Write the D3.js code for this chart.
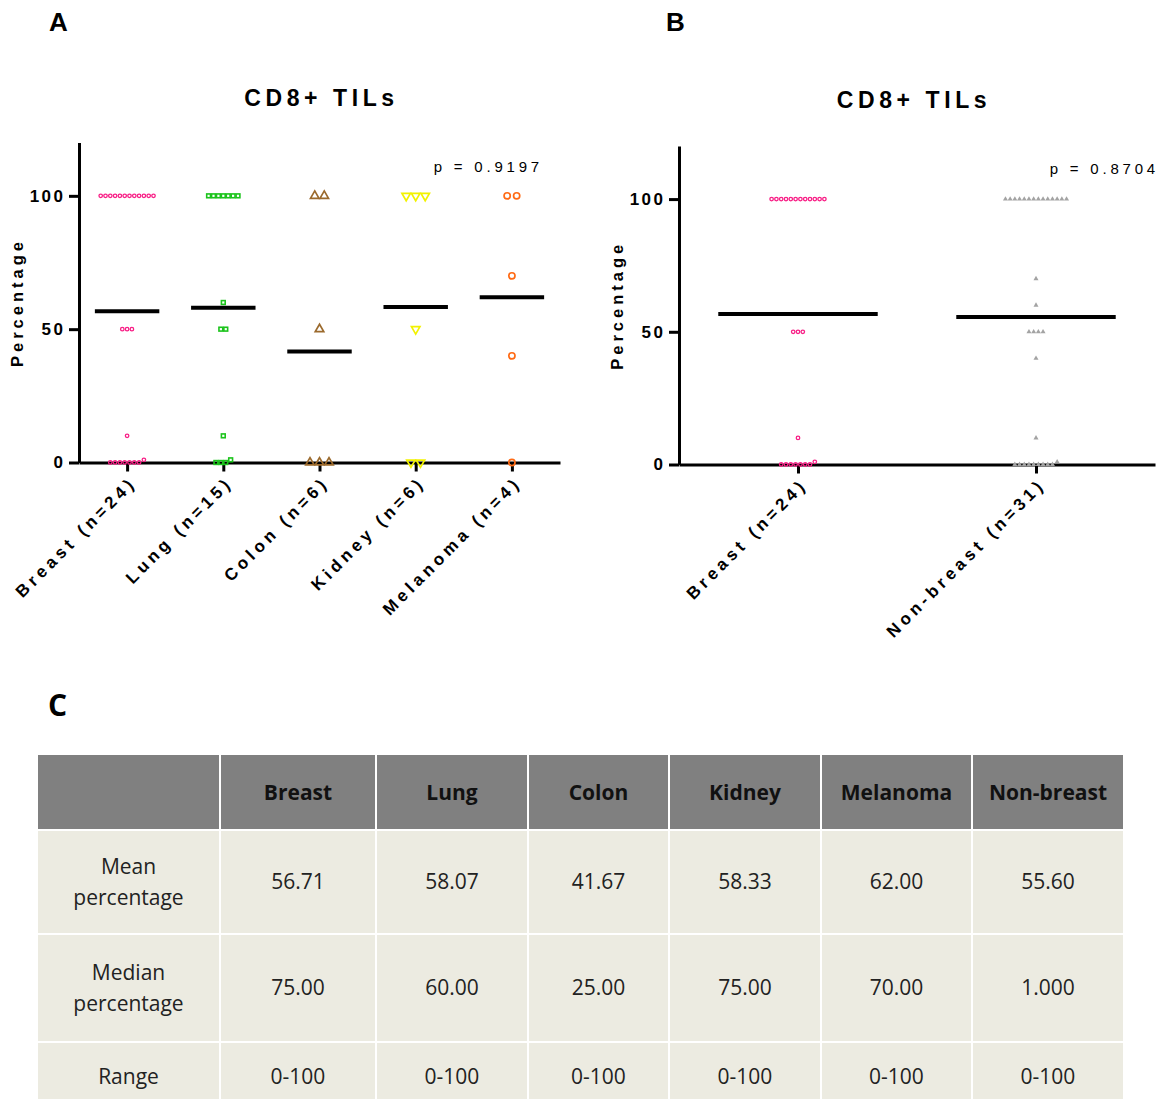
<!DOCTYPE html>
<html>
<head>
<meta charset="utf-8">
<script src="https://cdn.jsdelivr.net/npm/d3@7"></script>
<style>
  body { margin: 0; background: #fff; }
  svg text { font-family: "Liberation Sans", Arial, sans-serif; }
  .tbl text { font-family: "Open Sans", sans-serif; }
</style>
</head>
<body>
<div id="chart"></div>
<script>
// categories
const groupsA = ["Breast (n=24)", "Lung (n=15)", "Colon (n=6)", "Kidney (n=6)", "Melanoma (n=4)"];
const groupsB = ["Breast (n=24)", "Non-breast (n=31)"];

// individual percentages
const breastVals = [100,100,100,100,100,100,100,100,100,100,100,100, 50,50,50, 10, 0,0,0,0,0,0,0, 1];
const lungVals = [100,100,100,100,100,100,100, 60, 50,50, 10, 0,0,0, 1];
const colonVals = [100,100, 50, 0,0,0];
const kidneyVals = [100,100,100, 50, 0,0];
const melanomaVals = [100,100, 70, 40, 0];
const nonBreastVals = [100,100,100,100,100,100,100,100,100,100,100,100,100,100, 70, 60, 50,50,50,50, 40, 10, 0,0,0,0,0,0,0,0,0, 1];

// mean lines (from the table)
const meansA = [56.71, 58.07, 41.67, 58.33, 62.00];
const meansB = [56.71, 55.60];

const pValues = ["p = 0.9197", "p = 0.8704"];
const yTicks = [0, 50, 100];

// table
const tableHeader = ["", "Breast", "Lung", "Colon", "Kidney", "Melanoma", "Non-breast"];
const rowLabels = [["Mean", "percentage"], ["Median", "percentage"], ["Range"]];
const meanRow = ["56.71", "58.07", "41.67", "58.33", "62.00", "55.60"];
const medianRow = ["75.00", "60.00", "25.00", "75.00", "70.00", "1.000"];
const rangeRow = ["0-100", "0-100", "0-100", "0-100", "0-100", "0-100"];

// marker styles
const styles = {
  breast:   { shape: "circle", r: 1.75, stroke: "#f81f86", sw: 1.3, fill: "none", gap: 4.8 },
  lung:     { shape: "square", s: 3.8, stroke: "#1cc41c", sw: 1.6, fill: "none", gap: 4.9 },
  colon:    { shape: "tri", s: 8.5, stroke: "#9b6a2d", sw: 1.7, fill: "none", gap: 9.5 },
  kidney:   { shape: "triDown", s: 8.5, stroke: "#f2f200", sw: 1.7, fill: "none", gap: 9.5 },
  melanoma: { shape: "circle", r: 3.1, stroke: "#ff6a14", sw: 1.7, fill: "none", gap: 9.5 },
  nonBreast:{ shape: "tri", s: 5, stroke: "none", sw: 0, fill: "#a3a3a3", gap: 4.7 }
};

const seriesA = [
  { values: breastVals, style: styles.breast },
  { values: lungVals, style: styles.lung },
  { values: colonVals, style: styles.colon },
  { values: kidneyVals, style: styles.kidney },
  { values: melanomaVals, style: styles.melanoma }
];
const seriesB = [
  { values: breastVals, style: styles.breast },
  { values: nonBreastVals, style: styles.nonBreast }
];

const W = 1161, H = 1099;
const svg = d3.select("#chart").append("svg").attr("width", W).attr("height", H);

// spread equal (or nearly equal) values side by side, lowest value first
function spread(values, gap) {
  let sorted = values.slice().sort((a, b) => a - b);
  let rows = [];
  sorted.forEach(v => {
    let last = rows[rows.length - 1];
    if (last && v - last[0] <= 2) last.push(v); else rows.push([v]);
  });
  let out = [];
  rows.forEach(r => r.forEach((v, i) => out.push({ v: v, off: (i - (r.length - 1) / 2) * gap })));
  return out;
}

function drawMark(g, st, cx, cy) {
  if (st.shape == "circle") {
    g.append("circle").attr("cx", cx).attr("cy", cy).attr("r", st.r)
      .attr("fill", st.fill).attr("stroke", st.stroke).attr("stroke-width", st.sw);
  } else if (st.shape == "square") {
    g.append("rect").attr("x", cx - st.s / 2).attr("y", cy - st.s / 2)
      .attr("width", st.s).attr("height", st.s)
      .attr("fill", st.fill).attr("stroke", st.stroke).attr("stroke-width", st.sw);
  } else {
    let area = Math.sqrt(3) / 4 * st.s * st.s;
    g.append("path").attr("d", d3.symbol(d3.symbolTriangle, area)())
      .attr("transform", "translate(" + cx + "," + cy + ")" + (st.shape == "triDown" ? " rotate(180)" : ""))
      .attr("fill", st.fill).attr("stroke", st.stroke).attr("stroke-width", st.sw)
      .attr("stroke-linejoin", "miter");
  }
}

function drawPanel(o) {
  const g = svg.append("g");
  const x = d3.scalePoint().domain(o.groups).range([o.left, o.right]).padding(0.5);
  const y = d3.scaleLinear().domain([0, 120]).range([o.bottom, o.top]);

  // panel letter and title
  g.append("text").attr("x", o.letterX).attr("y", 31).text(o.letter)
    .style("font-size", "26px").style("font-weight", "bold");
  g.append("text").attr("x", (o.left + o.right) / 2 + o.titleDx).attr("y", o.titleY).attr("text-anchor", "middle")
    .text("CD8+ TILs").style("font-size", "23px").style("font-weight", "bold").style("letter-spacing", "4.6px");

  // y axis
  const yAxis = g.append("g").attr("transform", "translate(" + o.left + ",0)")
    .call(d3.axisLeft(y).tickValues(yTicks).tickSize(10).tickSizeOuter(0).tickPadding(6));
  yAxis.select(".domain").attr("stroke-width", 3);
  yAxis.selectAll(".tick line").attr("stroke-width", 3);
  yAxis.selectAll(".tick text").attr("dx", 2.5).attr("fill", "#000")
    .style("font-size", "17px").style("font-weight", "bold").style("letter-spacing", "2.5px");

  g.append("text").attr("transform", "translate(" + o.labelX + "," + ((o.top + o.bottom) / 2 + 0) + ") rotate(-90)")
    .attr("text-anchor", "middle").text("Percentage")
    .style("font-size", "16.5px").style("font-weight", "bold").style("letter-spacing", "4px");

  // x axis
  const xAxis = g.append("g").attr("transform", "translate(0," + o.bottom + ")")
    .call(d3.axisBottom(x).tickSize(9).tickSizeOuter(0));
  xAxis.select(".domain").attr("stroke-width", 3);
  xAxis.selectAll(".tick line").attr("stroke-width", 3);
  xAxis.selectAll(".tick text").remove();
  xAxis.selectAll(".tick").append("text")
    .attr("transform", "translate(10,21) rotate(-45)")
    .attr("text-anchor", "end").attr("fill", "#000")
    .text(d => d)
    .style("font-size", "17px").style("font-weight", "bold").style("letter-spacing", "4.2px");

  // p value
  g.append("text").attr("x", o.pX).attr("y", o.pY).attr("text-anchor", "end")
    .text(o.p).style("font-size", "15px").style("letter-spacing", "3.8px");

  // points
  const pts = g.append("g");
  o.series.forEach((s, i) => {
    spread(s.values, s.style.gap).forEach(p => {
      drawMark(pts, s.style, x(o.groups[i]) + p.off, y(p.v));
    });
  });

  // mean lines
  const half = x.step() * 0.335;
  g.selectAll(".mean").data(o.means).enter().append("line")
    .attr("x1", (d, i) => x(o.groups[i]) - half)
    .attr("x2", (d, i) => x(o.groups[i]) + half)
    .attr("y1", d => y(d)).attr("y2", d => y(d))
    .attr("stroke", "#000").attr("stroke-width", 4);
}

drawPanel({ groups: groupsA, series: seriesA, means: meansA, left: 79, right: 560, top: 142.5, bottom: 462.5,
  letter: "A", letterX: 49, titleY: 106, titleDx: 2, labelX: 23, pX: 543, pY: 172, p: pValues[0] });
drawPanel({ groups: groupsB, series: seriesB, means: meansB, left: 679, right: 1155, top: 146, bottom: 464.5,
  letter: "B", letterX: 666, titleY: 108, titleDx: -3, labelX: 623, pX: 1159, pY: 174, p: pValues[1] });

// table C
svg.append("text").attr("x", 48).attr("y", 716).text("C")
  .style("font-family", "'Open Sans', sans-serif").style("font-size", "30px").style("font-weight", "bold");

const colW = [183, 156, 152, 141, 152, 151, 152];
const rowH = [76, 104, 108, 70];
const colX = d3.cumsum([38].concat(colW.slice(0, -1)));
const rowY = d3.cumsum([755].concat(rowH.slice(0, -1)));
const bodyRows = [meanRow, medianRow, rangeRow];

const tbl = svg.append("g").attr("class", "tbl");
tableHeader.forEach((h, c) => {
  tbl.append("rect").attr("x", colX[c]).attr("y", rowY[0]).attr("width", colW[c] - 2).attr("height", rowH[0] - 2)
    .attr("fill", "#808080");
  tbl.append("text").attr("x", colX[c] + colW[c] / 2 - 1).attr("y", rowY[0] + rowH[0] / 2 - 1)
    .attr("text-anchor", "middle").attr("dominant-baseline", "central")
    .text(h).style("font-size", "21px").style("font-weight", "bold").attr("fill", "#111");
});
bodyRows.forEach((row, r) => {
  const top = rowY[r + 1], hh = rowH[r + 1];
  const cells = [rowLabels[r]].concat(row.map(v => [v]));
  cells.forEach((lines, c) => {
    tbl.append("rect").attr("x", colX[c]).attr("y", top).attr("width", colW[c] - 2).attr("height", hh - 2)
      .attr("fill", "#ecebe1");
    lines.forEach((t, k) => {
      tbl.append("text").attr("x", colX[c] + colW[c] / 2 - 1)
        .attr("y", top + hh / 2 - 2 + (k - (lines.length - 1) / 2) * 31)
        .attr("text-anchor", "middle").attr("dominant-baseline", "central")
        .text(t).style("font-size", "21px").attr("fill", "#222");
    });
  });
});
</script>
</body>
</html>
